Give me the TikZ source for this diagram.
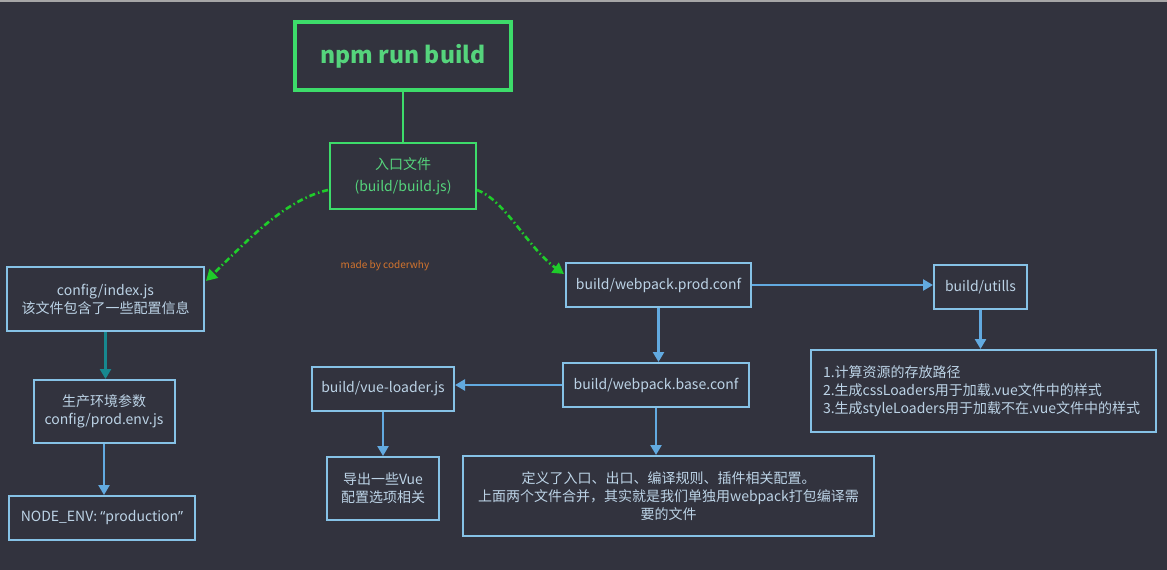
\documentclass[tikz,border=0pt]{standalone}
\usepackage{fontspec}
\setmainfont{Noto Sans CJK SC}
\newfontfamily\latinq{Noto Sans}
\usetikzlibrary{arrows.meta}
\definecolor{bgc}{HTML}{32333E}
\definecolor{grn}{HTML}{3DDC6A}
\definecolor{grntxt}{HTML}{55D47C}
\definecolor{dashg}{HTML}{1FCC2A}
\definecolor{bbox}{HTML}{86C2E6}
\definecolor{btxt}{HTML}{BCD3E6}
\definecolor{barrow}{HTML}{62AAE0}
\definecolor{tarrow}{HTML}{17888F}
\definecolor{orng}{HTML}{D2742E}
\tikzset{
  bluebox/.style={draw=bbox, line width=2pt, inner sep=0pt, text=btxt, align=center,
    font=\fontsize{14}{18}\selectfont},
  greenbox/.style={draw=grn, inner sep=0pt, text=grntxt, align=center},
  barr/.style={draw=barrow, line width=2.6pt, -{Triangle[width=11pt,length=10pt]}},
  tarr/.style={draw=tarrow, line width=2.6pt, -{Triangle[width=11pt,length=10pt]}},
  garr/.style={draw=dashg, line width=2.6pt, dash pattern=on 6pt off 3pt on 1.5pt off 3pt,
    -{Triangle[width=12pt,length=11pt]}},
}
\begin{document}
\begin{tikzpicture}[x=1pt,y=-1pt]
\fill[bgc] (0,0) rectangle (1167,570);
\useasboundingbox (0,0) rectangle (1167,570);
\fill[gray!70] (0,0) rectangle (1167,1.5);
% top
\node[greenbox, line width=3.5pt, minimum width=216pt, minimum height=68pt,
  font=\fontsize{23}{26}\selectfont\bfseries] (npm) at (403,56) {npm run build};
\node[greenbox, line width=2pt, minimum width=146pt, minimum height=66pt,
  font=\fontsize{14}{22}\selectfont] (entry) at (403,176) {入口文件\\(build/build.js)};
\draw[grn, line width=1.5pt] (npm.south) -- (entry.north);
\node[text=orng, font=\fontsize{10}{12}\selectfont] (made) at (385,266) {made by coderwhy};
% left column
\node[bluebox, minimum width=197pt, minimum height=64pt] (config) at (105.5,299) {config/index.js\\该文件包含了一些配置信息};
\node[bluebox, minimum width=141pt, minimum height=63pt] (prodenv) at (104,411.5) {生产环境参数\\config/prod.env.js};
\node[bluebox, minimum width=186pt, minimum height=44pt] (nodeenv) at (102,518) {NODE\_ENV: {\latinq “}production{\latinq ”}};
% middle
\node[bluebox, minimum width=185pt, minimum height=44pt] (prod) at (658.5,285) {build/webpack.prod.conf};
\node[bluebox, minimum width=186pt, minimum height=44pt] (base) at (656,385) {build/webpack.base.conf};
\node[bluebox, minimum width=142pt, minimum height=44pt] (vue) at (383,389) {build/vue-loader.js};
\node[bluebox, minimum width=112pt, minimum height=63pt] (export) at (383,488.5) {导出一些Vue\\配置选项相关};
\node[bluebox, minimum width=411pt, minimum height=80pt] (define) at (668.5,496) {定义了入口、出口、编译规则、插件相关配置。\\上面两个文件合并，其实就是我们单独用webpack打包编译需\\要的文件};
% right
\node[bluebox, minimum width=93pt, minimum height=44pt] (utils) at (980.5,287) {build/utills};
\node[bluebox, minimum width=345pt, minimum height=82pt, align=left, text width=321pt] (list) at (983.5,391) {1.计算资源的存放路径\\2.生成cssLoaders用于加载.vue文件中的样式\\3.生成styleLoaders用于加载不在.vue文件中的样式};
% connector ends
\coordinate (eL) at (328,190);
\coordinate (eR) at (477,190);
\coordinate (cT) at (206,281);
\coordinate (pT) at (564,274);
% connectors
\draw[garr] (eL) .. controls (285,200) and (250,238) .. (cT);
\draw[garr] (eR) .. controls (505,200) and (528,248) .. (pT);
\draw[tarr] (config.south) -- (config.south |- prodenv.north);
\draw[barr] (prodenv.south) -- (prodenv.south |- nodeenv.north);
\draw[barr] (prod.south) -- (prod.south |- base.north);
\draw[barr] (base.west) -- (base.west -| vue.east);
\draw[barr] (vue.south) -- (vue.south |- export.north);
\draw[barr] (base.south) -- (base.south |- define.north);
\draw[barr] (prod.east) -- (prod.east -| utils.west);
\draw[barr] (utils.south) -- (utils.south |- list.north);
\end{tikzpicture}
\end{document}
